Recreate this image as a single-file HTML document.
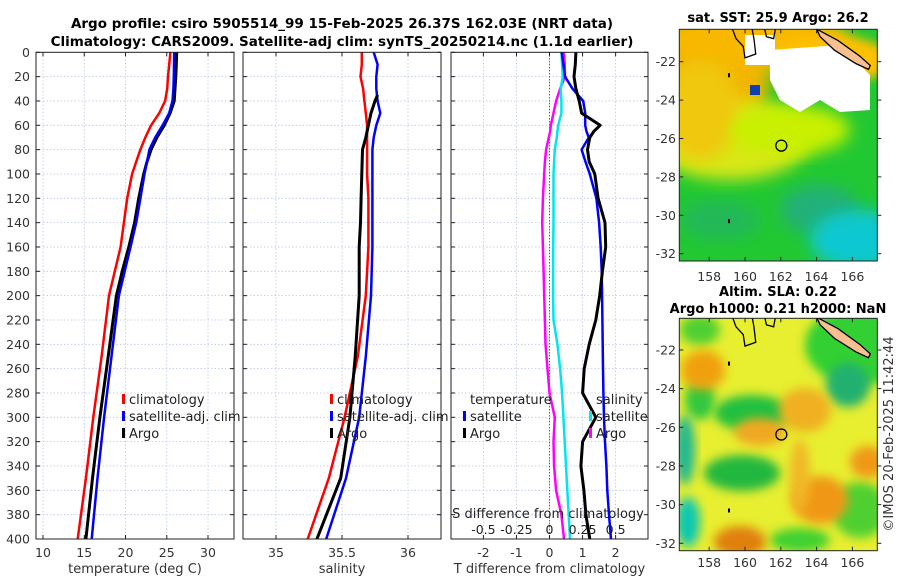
<!DOCTYPE html>
<html><head><meta charset="utf-8"><style>
html,body{margin:0;padding:0;background:#fff;}
svg{display:block;font-family:"DejaVu Sans","Liberation Sans",sans-serif;}
</style></head><body>
<svg id="fig" width="900" height="580" viewBox="0 0 900 580">
<defs>
<filter id="blur1" x="-30%" y="-30%" width="160%" height="160%"><feGaussianBlur stdDeviation="5"/></filter>
<filter id="blur2" x="-20%" y="-20%" width="140%" height="140%"><feGaussianBlur stdDeviation="8"/></filter>
<clipPath id="clipM1"><rect x="679.3" y="29.3" width="198" height="231.7"/></clipPath>
<clipPath id="clipM2"><rect x="679.3" y="318.3" width="198" height="232.4"/></clipPath>
<clipPath id="clipP1"><rect x="36" y="52.3" width="198" height="486.7"/></clipPath>
<clipPath id="clipP2"><rect x="243" y="52.3" width="198" height="486.7"/></clipPath>
<clipPath id="clipP3"><rect x="451" y="52.3" width="197" height="486.7"/></clipPath>
</defs>
<text x="342" y="28" text-anchor="middle" font-size="13.5" font-weight="bold">Argo profile: csiro 5905514_99 15-Feb-2025 26.37S 162.03E (NRT data)</text>
<text x="342" y="46" text-anchor="middle" font-size="13.5" font-weight="bold">Climatology: CARS2009. Satellite-adj clim: synTS_20250214.nc (1.1d earlier)</text>
<text x="778" y="22" text-anchor="middle" font-size="13" font-weight="bold">sat. SST: 25.9 Argo: 26.2</text>
<text x="778" y="296" text-anchor="middle" font-size="13" font-weight="bold">Altim. SLA: 0.22</text>
<text x="778" y="313" text-anchor="middle" font-size="13" font-weight="bold">Argo h1000: 0.21 h2000: NaN</text>
<text transform="translate(893,434) rotate(-90)" text-anchor="middle" font-size="13" fill="#333">©IMOS 20-Feb-2025 11:42:44</text>
<g id="g"></g>
</svg>
<script>
// ---------- data ----------
const depthTicks = [0,20,40,60,80,100,120,140,160,180,200,220,240,260,280,300,320,340,360,380,400];
const depthProf = [0,10,20,30,40,50,60,70,80,90,100,120,140,160,180,200,250,300,350,400];
const tempClim = [25.44,25.3,25.15,25.05,24.8,24.1,23.1,22.4,21.8,21.3,20.8,20.2,19.8,19.4,18.7,18.0,17.1,16.1,15.2,14.2];
const tempSat  = [25.9,25.88,25.85,25.8,25.7,25.3,24.5,23.6,22.9,22.6,22.3,21.8,21.3,20.6,19.9,19.2,18.3,17.4,16.6,15.9];
const tempArgo = [26.2,26.15,26.1,26.0,25.9,25.4,24.7,23.8,23.1,22.6,22.2,21.6,21.1,20.4,19.6,18.9,17.9,16.9,16.0,15.2];
const salClim = [35.65,35.65,35.64,35.66,35.67,35.68,35.69,35.69,35.69,35.69,35.69,35.70,35.70,35.70,35.69,35.68,35.62,35.52,35.40,35.24];
const salSat  = [35.74,35.77,35.76,35.76,35.77,35.79,35.76,35.74,35.73,35.73,35.73,35.73,35.73,35.73,35.725,35.72,35.68,35.63,35.53,35.38];
const depthSalArgo = [35,40,50,60,70,80,100,120,140,160,180,200,250,300,350,400];
const salArgo = [35.77,35.75,35.72,35.70,35.68,35.655,35.65,35.645,35.64,35.63,35.63,35.63,35.60,35.56,35.49,35.31];
const depthDiff = [0,10,20,30,40,50,60,65,70,80,90,100,120,140,160,180,200,220,240,260,280,300,320,340,360,380,400];
const tDiffSat  = [0.37,0.42,0.47,0.7,1.02,1.08,1.08,1.12,1.19,0.97,1.09,1.22,1.42,1.5,1.55,1.58,1.59,1.6,1.61,1.62,1.63,1.65,1.68,1.72,1.75,1.8,1.86];
const tDiffArgo = [0.8,0.78,0.74,0.8,0.9,0.97,1.53,1.34,1.22,1.15,1.2,1.37,1.47,1.68,1.7,1.6,1.52,1.4,1.2,1.05,1.0,1.4,1.0,0.95,1.04,1.1,1.22];
const sDiffSat  = [0.09,0.095,0.1,0.085,0.09,0.09,0.066,0.06,0.055,0.04,0.035,0.03,0.03,0.03,0.028,0.027,0.027,0.03,0.06,0.08,0.095,0.105,0.115,0.125,0.135,0.145,0.155];
const sDiffArgo = [0.11,0.115,0.117,0.08,0.05,0.03,0.01,0.005,-0.005,-0.026,-0.035,-0.04,-0.05,-0.055,-0.05,-0.045,-0.04,-0.035,-0.03,-0.015,0.0,0.04,0.03,0.035,0.05,0.09,0.11];
const tempTicks = [10,15,20,25,30];
const salTicks = [35,35.5,36];
const tDiffTicks = [-2,-1,0,1,2];
const sDiffTicks = [-0.5,-0.25,0,0.25,0.5];
const sDiffTickLabels = ["-0.5","-0.25","0","0.25","0.5"];
const lonTicks = [158,160,162,164,166];
const latTicks = [-22,-24,-26,-28,-30,-32];
const argoLon = 162.03, argoLat = -26.37;

// ---------- helpers ----------
const NS="http://www.w3.org/2000/svg";
const G=document.getElementById('g');
function mk(tag,attrs,parent){const e=document.createElementNS(NS,tag);for(const k in attrs)e.setAttribute(k,attrs[k]);(parent||G).appendChild(e);return e;}
const yTop=52.3, yBot=539;
const yD = d => yTop + d*(yBot-yTop)/400;
function scaleX(x0,x1,v0,v1){return v=>x0+(v-v0)*(x1-x0)/(v1-v0);}
const panels=[
 {name:'temperature-panel',x0:36,x1:234,vmin:9.15,vmax:33.15,clip:'clipP1'},
 {name:'salinity-panel',x0:243,x1:441,vmin:34.75,vmax:36.25,clip:'clipP2'},
 {name:'difference-panel',x0:451,x1:648,vmin:-2.98,vmax:2.98,clip:'clipP3'}
];
panels.forEach(p=>p.sx=scaleX(p.x0,p.x1,p.vmin,p.vmax));
const sxS = scaleX(451,648,-0.745,0.745);

function grid(p,ticks){
  const gg=mk('g',{});
  
  
  depthTicks.forEach(d=>{mk('line',{x1:p.x0,x2:p.x1,y1:yD(d),y2:yD(d),stroke:'#b8c4e8','stroke-width':0.8,'stroke-dasharray':'1.5,2'},gg);});
  ticks.forEach(t=>{mk('line',{x1:p.sx(t),x2:p.sx(t),y1:yTop,y2:yBot,stroke:'#b8c4e8','stroke-width':0.8,'stroke-dasharray':'1.5,2'},gg);});
}
function frame(p,ticks,labels,xlabel){
  const r=mk('rect',{x:p.x0,y:yTop,width:p.x1-p.x0,height:yBot-yTop,fill:'none',stroke:'#222','stroke-width':1});
  
  
  depthTicks.forEach(d=>{
    mk('line',{x1:p.x0,x2:p.x0+4,y1:yD(d),y2:yD(d),stroke:'#222'});
    mk('line',{x1:p.x1,x2:p.x1-4,y1:yD(d),y2:yD(d),stroke:'#222'});
  });
  ticks.forEach((t,i)=>{
    mk('line',{x1:p.sx(t),x2:p.sx(t),y1:yBot,y2:yBot-4,stroke:'#222'});
    mk('line',{x1:p.sx(t),x2:p.sx(t),y1:yTop,y2:yTop+4,stroke:'#222'});
    const tx=mk('text',{x:p.sx(t),y:557,'text-anchor':'middle','font-size':12.5,fill:'#333'});
    tx.textContent=labels[i];
    
    
  });
  const xl=mk('text',{x:(p.x0+p.x1)/2,y:573,'text-anchor':'middle','font-size':13,fill:'#333'});
  xl.textContent=xlabel;
  
  
}
function line(p,sx,vals,depths,color,w,name){
  const pts=vals.map((v,i)=>sx(v).toFixed(1)+','+yD(depths[i]).toFixed(1)).join(' ');
  const e=mk('polyline',{points:pts,fill:'none',stroke:color,'stroke-width':w,'stroke-linejoin':'round','clip-path':'url(#'+p.clip+')'});
  
  
}
function legend(x,y,color,label,name){
  if(color){
    const m=mk('rect',{x:x,y:y-10,width:3,height:10,fill:color});
    
    
  }
  const t=mk('text',{x:x+(color?7:0),y:y,'font-size':13,fill:'#222'});
  t.textContent=label;
  
  
}

const P1=panels[0],P2=panels[1],P3=panels[2];
grid(P1,tempTicks);grid(P2,salTicks);grid(P3,tDiffTicks);
line(P1,P1.sx,tempClim,depthProf,'#ff0000',2.5,'temp-climatology-line');
line(P1,P1.sx,tempArgo,depthProf,'#000',3,'temp-argo-line');
line(P1,P1.sx,tempSat,depthProf,'#0000ff',2.5,'temp-satellite-line');
frame(P1,tempTicks,tempTicks.map(String),'temperature (deg C)');
depthTicks.forEach(d=>{
  const t=mk('text',{x:30,y:yD(d)+4.5,'text-anchor':'end','font-size':12.5,fill:'#333'});
  t.textContent=String(d);
  
  
});
legend(122,404,'#ff0000','climatology','legend-climatology');
legend(122,421,'#0000ff','satellite-adj. clim','legend-satellite-adj');
legend(122,438,'#000','Argo','legend-argo');

line(P2,P2.sx,salClim,depthProf,'#ff0000',2.5,'sal-climatology-line');
line(P2,P2.sx,salSat,depthProf,'#0000ff',2.5,'sal-satellite-line');
line(P2,P2.sx,salArgo,depthSalArgo,'#000',3,'sal-argo-line');
frame(P2,salTicks,salTicks.map(String),'salinity');
legend(330,404,'#ff0000','climatology','legend2-climatology');
legend(330,421,'#0000ff','satellite-adj. clim','legend2-satellite-adj');
legend(330,438,'#000','Argo','legend2-argo');

const z=mk('line',{x1:P3.sx(0),x2:P3.sx(0),y1:yTop,y2:yBot,stroke:'#333','stroke-width':1,'stroke-dasharray':'1,2'});


line(P3,sxS,sDiffArgo,depthDiff,'#ff00ff',2.5,'sal-diff-argo-line');
line(P3,sxS,sDiffSat,depthDiff,'#00e5ee',2.5,'sal-diff-satellite-line');
line(P3,P3.sx,tDiffSat,depthDiff,'#0000ff',2.5,'temp-diff-satellite-line');
line(P3,P3.sx,tDiffArgo,depthDiff,'#000',3,'temp-diff-argo-line');
frame(P3,tDiffTicks,tDiffTicks.map(String),'T difference from climatology');
legend(470,404,null,'temperature','legend3-temperature-header');
legend(463,421,'#0000ff','satellite','legend3-temp-satellite');
legend(463,438,'#000','Argo','legend3-temp-argo');
legend(596,404,null,'salinity','legend3-salinity-header');
legend(589,421,'#00e5ee','satellite','legend3-sal-satellite');
legend(589,438,'#ff00ff','Argo','legend3-sal-argo');
const st=mk('text',{x:548,y:518,'text-anchor':'middle','font-size':13,fill:'#222'});
st.textContent='S difference from climatology';


sDiffTicks.forEach((t,i)=>{
  const tx=mk('text',{x:sxS(t),y:534,'text-anchor':'middle','font-size':12.5,fill:'#222'});
  tx.textContent=sDiffTickLabels[i];
  
  
});

// ---------- maps ----------
const lonX = l => 679.3 + (l-156.33)*17.9;
const lat1 = la => 61.7 + (-22-la)*19.2;
const lat2 = la => 350 + (-22-la)*19.33;
function blob(g,cx,cy,rx,ry,col,f){mk('ellipse',{cx,cy,rx,ry,fill:col,filter:'url(#'+f+')'},g);}
function mapFrame(top,bot,ly,name,labY){
  const r=mk('rect',{x:679.3,y:top,width:198,height:bot-top,fill:'none',stroke:'#222'});
  
  
  lonTicks.forEach(l=>{
    mk('line',{x1:lonX(l),x2:lonX(l),y1:top,y2:top+4,stroke:'#222'});
    mk('line',{x1:lonX(l),x2:lonX(l),y1:bot,y2:bot-4,stroke:'#222'});
    const t=mk('text',{x:lonX(l),y:labY,'text-anchor':'middle','font-size':12.5,fill:'#333'});
    t.textContent=String(l);
    
    
  });
  latTicks.forEach(la=>{
    mk('line',{x1:877.3,x2:881.3,y1:ly(la),y2:ly(la),stroke:'#222'});
    mk('line',{x1:679.3,x2:683.3,y1:ly(la),y2:ly(la),stroke:'#222'});
    const t=mk('text',{x:676,y:ly(la)+4.5,'text-anchor':'end','font-size':12.5,fill:'#333'});
    t.textContent=String(la);
    
    
  });
}
function coast(g,ly){
  mk('path',{d:`M${lonX(159.3)},${ly(-20.3)} L${lonX(159.5)},${ly(-20.8)} L${lonX(159.9)},${ly(-21.2)} L${lonX(160.0)},${ly(-21.8)} L${lonX(160.6)},${ly(-21.6)} L${lonX(160.5)},${ly(-20.8)} L${lonX(160.4)},${ly(-20.3)}`,fill:'none',stroke:'#000','stroke-width':1.3},g);
  mk('path',{d:`M${lonX(161.1)},${ly(-20.3)} L${lonX(161.2)},${ly(-20.7)} L${lonX(161.6)},${ly(-20.8)} L${lonX(161.7)},${ly(-20.3)}`,fill:'none',stroke:'#000','stroke-width':1.3},g);
  mk('path',{d:`M${lonX(164.0)},${ly(-20.3)} L${lonX(165.2)},${ly(-20.9)} L${lonX(166.4)},${ly(-21.7)} L${lonX(167.0)},${ly(-22.2)} L${lonX(166.9)},${ly(-22.4)} L${lonX(166.2)},${ly(-22.1)} L${lonX(165.0)},${ly(-21.4)} L${lonX(164.2)},${ly(-20.7)} Z`,fill:'#f8c090',stroke:'#000','stroke-width':1.3},g);
  mk('rect',{x:lonX(159.05),y:ly(-22.6),width:2,height:4,fill:'#000'},g);
  mk('rect',{x:lonX(159.05),y:ly(-30.2),width:2,height:4,fill:'#000'},g);
  const c=mk('circle',{cx:lonX(argoLon),cy:ly(argoLat),r:5.5,fill:'none',stroke:'#000','stroke-width':1.3},g);
  
  
}
// SST map
const m1=mk('g',{'clip-path':'url(#clipM1)'});


mk('rect',{x:679,y:29,width:199,height:233,fill:'#22c832'},m1);
blob(m1,700,80,70,60,'#f0b400','blur2');
blob(m1,760,40,90,30,'#f8b800','blur2');
blob(m1,730,140,80,40,'#d8e818','blur2');
blob(m1,700,110,40,50,'#f0c810','blur2');
blob(m1,790,130,60,25,'#c8f000','blur2');
blob(m1,830,60,60,25,'#ffc000','blur1');
blob(m1,820,210,40,25,'#20b078','blur2');
blob(m1,860,240,50,30,'#10c8d0','blur2');
blob(m1,720,220,40,20,'#20b858','blur2');
mk('path',{d:'M770,50 L840,45 L870,75 L870,110 L840,112 L820,100 L800,112 L780,100 L770,80 Z',fill:'#fff'},m1);
mk('rect',{x:745,y:35,width:30,height:30,fill:'#fff'},m1);
mk('rect',{x:750,y:85,width:10,height:10,fill:'#1040b0'},m1);
coast(m1,lat1);
mapFrame(29.3,261,lat1,'sst-map',281);
// SLA map
const m2=mk('g',{'clip-path':'url(#clipM2)'});


mk('rect',{x:679,y:318,width:199,height:233,fill:'#e8ee30'},m2);
blob(m2,860,345,55,40,'#30d030','blur1');
blob(m2,752,413,38,18,'#20c040','blur1');
blob(m2,700,400,15,20,'#30c840','blur1');
blob(m2,700,330,20,15,'#50d030','blur1');
blob(m2,685,450,10,35,'#20b890','blur1');
blob(m2,688,522,12,25,'#10c8b0','blur1');
blob(m2,742,473,38,18,'#20b840','blur1');
blob(m2,848,385,22,22,'#20b070','blur1');
blob(m2,860,510,28,28,'#50d030','blur1');
blob(m2,800,540,30,12,'#40d030','blur1');
blob(m2,703,370,22,20,'#f0a010','blur1');
blob(m2,760,432,26,14,'#f0a820','blur1');
blob(m2,805,410,26,22,'#f0b020','blur1');
blob(m2,820,500,28,24,'#f09818','blur1');
blob(m2,868,462,18,16,'#f09818','blur1');
blob(m2,740,542,26,16,'#e08010','blur1');
blob(m2,800,475,10,36,'#f0b828','blur1');
coast(m2,lat2);
mapFrame(318.3,550.7,lat2,'sla-map',567);
</script>
</body></html>
